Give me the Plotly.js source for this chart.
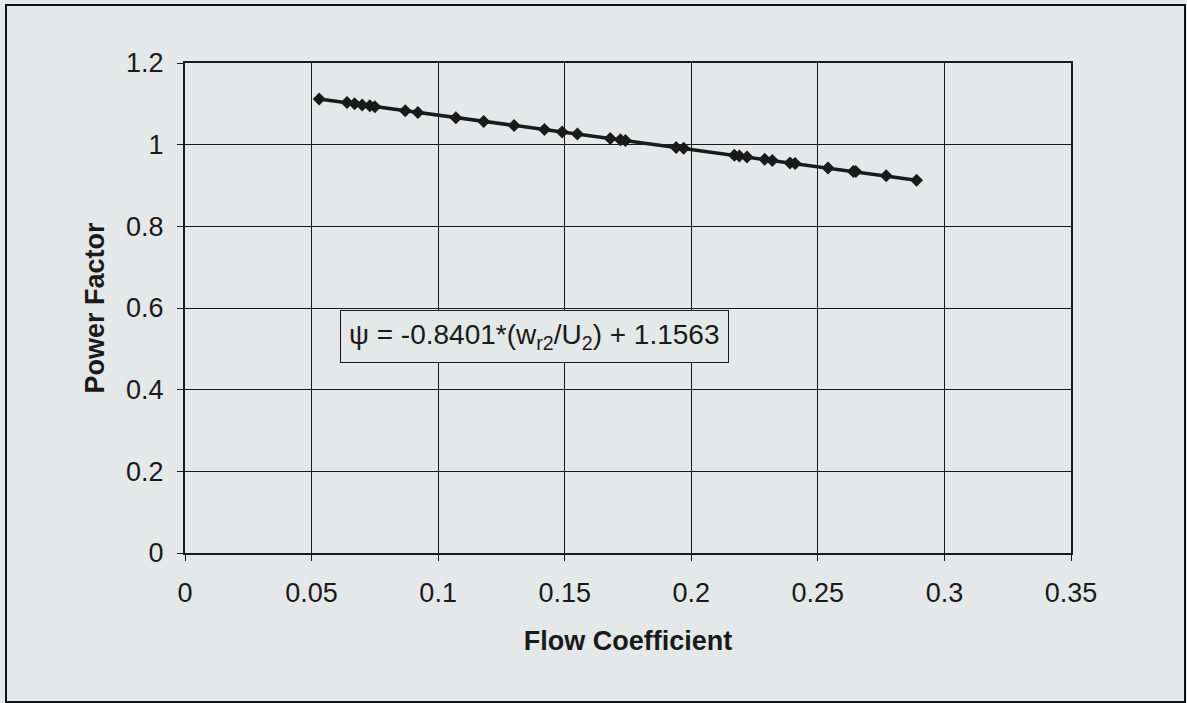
<!DOCTYPE html>
<html>
<head>
<meta charset="utf-8">
<script src="https://cdn.plot.ly/plotly-3.0.1.min.js"></script>
<style>
  html, body { margin: 0; padding: 0; background: #e4e8e8; }
  #wrap { position: relative; width: 1187px; height: 703px; }
  #chart { width: 1187px; height: 703px; }
  #frame { position: absolute; left: 5px; top: 4px; width: 1177px; height: 695px;
           border: 2px solid #111; pointer-events: none; }
</style>
</head>
<body>
<div id="wrap">
  <div id="chart"></div>
  <div id="frame"></div>
</div>
<script>
const flowCoefficient = [0.053, 0.064, 0.067, 0.070, 0.073, 0.075, 0.087, 0.092, 0.107, 0.118,
  0.130, 0.142, 0.149, 0.155, 0.168, 0.172, 0.174, 0.194, 0.197, 0.217, 0.219, 0.222,
  0.229, 0.232, 0.239, 0.241, 0.254, 0.264, 0.265, 0.277, 0.289];
const powerFactor = [1.112, 1.103, 1.100, 1.097, 1.095, 1.093, 1.083, 1.079, 1.066, 1.057,
  1.047, 1.037, 1.031, 1.026, 1.015, 1.012, 1.010, 0.993, 0.991, 0.974, 0.972, 0.970,
  0.964, 0.961, 0.955, 0.954, 0.943, 0.934, 0.934, 0.924, 0.913];
const xTicks = [0, 0.05, 0.1, 0.15, 0.2, 0.25, 0.3, 0.35];
const xTickLabels = ['0', '0.05', '0.1', '0.15', '0.2', '0.25', '0.3', '0.35'];
const yTicks = [0, 0.2, 0.4, 0.6, 0.8, 1, 1.2];
const yTickLabels = ['0', '0.2', '0.4', '0.6', '0.8', '1', '1.2'];
const equationText = 'ψ = -0.8401*(w<sub>r2</sub>/U<sub>2</sub>) + 1.1563';

const font = 'Liberation Sans, Arial, sans-serif';
const bg = '#e4e8e8';

const trace = {
  x: flowCoefficient, y: powerFactor, type: 'scatter', mode: 'lines+markers',
  line: { color: '#1a1a1a', width: 3.5 },
  marker: { symbol: 'diamond', size: 10, color: '#1a1a1a' },
  hoverinfo: 'skip'
};

const layout = {
  width: 1187, height: 703,
  margin: { l: 185, r: 116, t: 63, b: 150 },
  paper_bgcolor: bg, plot_bgcolor: bg,
  showlegend: false,
  font: { family: font, color: '#1a1a1a', size: 27 },
  xaxis: {
    range: [0, 0.35], tickvals: xTicks, ticktext: xTickLabels,
    showgrid: true, gridcolor: '#1a1a1a', gridwidth: 1,
    zeroline: false, showline: true, linecolor: '#1a1a1a', linewidth: 2, mirror: true,
    ticks: 'outside', ticklen: 6, tickcolor: '#1a1a1a', tickwidth: 1,
    ticklabelstandoff: 9,
    tickfont: { size: 27, family: font },
    title: { text: '<b>Flow Coefficient</b>', font: { size: 27, family: font }, standoff: 24 }
  },
  yaxis: {
    range: [0, 1.2], tickvals: yTicks, ticktext: yTickLabels,
    showgrid: true, gridcolor: '#1a1a1a', gridwidth: 1,
    zeroline: false, showline: true, linecolor: '#1a1a1a', linewidth: 2, mirror: true,
    ticks: 'outside', ticklen: 6, tickcolor: '#1a1a1a', tickwidth: 1,
    ticklabelstandoff: 8,
    tickfont: { size: 27, family: font },
    title: { text: '<b>Power Factor</b>', font: { size: 27, family: font }, standoff: 14 }
  },
  annotations: [{
    x: 0.1382, y: 0.531, xref: 'x', yref: 'y',
    xanchor: 'center', yanchor: 'middle',
    text: equationText, showarrow: false,
    font: { size: 28, family: font, color: '#1a1a1a' },
    bgcolor: bg, bordercolor: '#1a1a1a', borderwidth: 1, borderpad: 8
  }]
};

Plotly.newPlot('chart', [trace], layout, { displayModeBar: false, staticPlot: true });
</script>
</body>
</html>
